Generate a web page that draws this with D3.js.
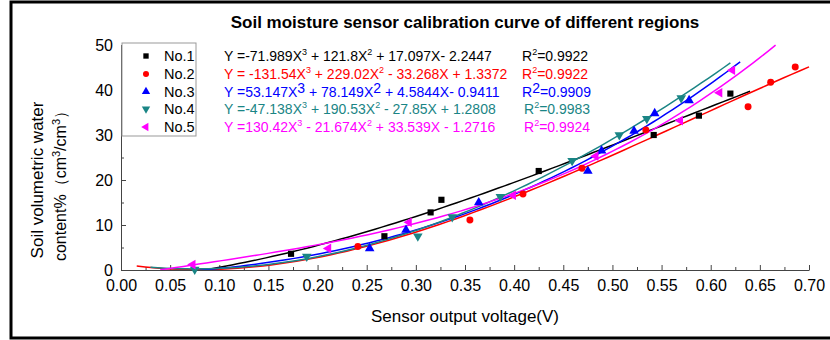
<!DOCTYPE html>
<html>
<head>
<meta charset="utf-8">
<script src="https://cdn.jsdelivr.net/npm/d3@7"></script>
<style>
  body { margin: 0; background: #fff; }
  svg text { font-family: "Liberation Sans", Arial, sans-serif; }
</style>
</head>
<body>
<div id="chart"></div>
<script>
// 数据
const seriesNames = ["No.1", "No.2", "No.3", "No.4", "No.5"];
const seriesColors = ["#000000", "#ff0000", "#0000ff", "#1a8585", "#ff00ff"];

const no1X = [0.173, 0.268, 0.315, 0.326, 0.425, 0.542, 0.588, 0.620];
const no1Y = [3.6, 7.5, 12.8, 15.6, 22.0, 30.0, 34.3, 39.2];
const no2X = [0.241, 0.355, 0.409, 0.469, 0.534, 0.638, 0.661, 0.686];
const no2Y = [5.2, 11.1, 16.9, 22.6, 31.1, 36.3, 41.7, 45.1];
const no3X = [0.253, 0.290, 0.364, 0.475, 0.489, 0.522, 0.543, 0.578];
const no3Y = [4.8, 8.9, 15.0, 22.0, 26.5, 30.9, 34.8, 37.7];
const no4X = [0.075, 0.189, 0.302, 0.337, 0.386, 0.459, 0.507, 0.535, 0.570];
const no4Y = [0.1, 3.0, 7.5, 11.8, 16.3, 24.3, 30.0, 33.6, 38.2];
const no5X = [0.073, 0.211, 0.293, 0.399, 0.483, 0.569, 0.609, 0.622];
const no5Y = [1.2, 4.8, 10.6, 16.6, 25.3, 33.2, 39.4, 44.4];

// fitted cubic coefficients as printed in the chart: [a3, a2, a1, a0]
const fitCoefs = [
  [-71.989, 121.8, 17.097, -2.2447],
  [-131.54, 229.02, -33.268, 1.3372],
  [53.147, 78.149, 4.5844, -0.9411],
  [-47.138, 190.53, -27.85, 1.2808],
  [130.42, -21.674, 33.539, -1.2716]
];
const fitRange = [[0.085, 0.64], [0.016, 0.70], [0.08, 0.63], [0.03, 0.62], [0.04, 0.666]];

const eqTexts = [
  ["Y =-71.989X", "3", " + 121.8X", "2", " + 17.097X- 2.2447"],
  ["Y = -131.54X", "3", " + 229.02X", "2", " - 33.268X + 1.3372"],
  ["Y =53.147X", "3", " + 78.149X", "2", " + 4.5844X- 0.9411"],
  ["Y =-47.138X", "3", " + 190.53X", "2", " - 27.85X + 1.2808"],
  ["Y =130.42X", "3", " - 21.674X", "2", " + 33.539X - 1.2716"]
];
const r2Values = ["0.9922", "0.9922", "0.9909", "0.9983", "0.9924"];

const xTicks = d3.range(0, 0.7001, 0.05);
const yTicks = [0, 10, 20, 30, 40, 50];

const allX = [no1X, no2X, no3X, no4X, no5X];
const allY = [no1Y, no2Y, no3Y, no4Y, no5Y];

const W = 830, H = 340;
const svg = d3.select("#chart").append("svg")
  .attr("width", W).attr("height", H);

// outer frame
svg.append("rect")
  .attr("x", 11).attr("y", 2)
  .attr("width", 830).attr("height", 336)
  .attr("fill", "none").attr("stroke", "#000").attr("stroke-width", 3);

const x = d3.scaleLinear().domain([0, 0.7]).range([121, 809]);
const y = d3.scaleLinear().domain([0, 50]).range([270, 45]);

// title
svg.append("text")
  .attr("x", 465).attr("y", 28)
  .attr("text-anchor", "middle")
  .attr("font-size", 17).attr("font-weight", "bold")
  .text("Soil moisture sensor calibration curve of different regions");

// x axis
svg.append("g")
  .attr("transform", `translate(0,${y(0)})`)
  .call(d3.axisBottom(x).tickValues(xTicks).tickFormat(d3.format(".2f"))
    .tickSize(-5).tickSizeOuter(0).tickPadding(10));
svg.append("g")
  .attr("transform", `translate(0,${y(0)})`)
  .call(d3.axisBottom(x).tickValues(d3.range(0.025, 0.7, 0.05)).tickFormat("")
    .tickSize(-3).tickSizeOuter(0))
  .select(".domain").remove();

// y axis
svg.append("g")
  .attr("transform", `translate(${x(0)},0)`)
  .call(d3.axisLeft(y).tickValues(yTicks).tickSize(-5).tickSizeOuter(0).tickPadding(8));
svg.append("g")
  .attr("transform", `translate(${x(0)},0)`)
  .call(d3.axisLeft(y).tickValues([5, 15, 25, 35, 45]).tickFormat("")
    .tickSize(-3).tickSizeOuter(0))
  .select(".domain").remove();

svg.selectAll(".tick text")
  .attr("font-size", 16).attr("fill", "#000");
svg.selectAll(".domain, .tick line").attr("stroke", "#444");

// axis titles
svg.append("text")
  .attr("x", 465).attr("y", 322)
  .attr("text-anchor", "middle").attr("font-size", 17)
  .text("Sensor output voltage(V)");

svg.append("text")
  .attr("transform", "translate(43,180) rotate(-90)")
  .attr("text-anchor", "middle").attr("font-size", 17)
  .text("Soil volumetric water");
const yt2 = svg.append("text")
  .attr("transform", "translate(66,182) rotate(-90)")
  .attr("text-anchor", "middle").attr("font-size", 16);
yt2.append("tspan").text("content%（cm");
yt2.append("tspan").attr("dy", -6).attr("font-size", 11).text("3");
yt2.append("tspan").attr("dy", 6).text("/cm");
yt2.append("tspan").attr("dy", -6).attr("font-size", 11).text("3");
yt2.append("tspan").attr("dy", 6).text("）");

// fitted curves
const plot = svg.append("g");
svg.append("clipPath").attr("id", "clip")
  .append("rect").attr("x", x(0)).attr("y", 40).attr("width", 700).attr("height", y(0) - 40);
const line = d3.line().x(d => x(d[0])).y(d => y(d[1]));
fitCoefs.forEach((c, i) => {
  const [a, b] = fitRange[i];
  const pts = d3.range(a, b + 1e-9, (b - a) / 80).map(v =>
    [v, c[0] * v * v * v + c[1] * v * v + c[2] * v + c[3]]);
  plot.append("path")
    .attr("d", line(pts))
    .attr("clip-path", "url(#clip)")
    .attr("fill", "none")
    .attr("stroke", seriesColors[i])
    .attr("stroke-width", 1.5);
});

// markers
const symbols = [
  { type: d3.symbolSquare, size: 38, rot: 0 },
  { type: d3.symbolCircle, size: 38, rot: 0 },
  { type: d3.symbolTriangle, size: 40, rot: 0 },
  { type: d3.symbolTriangle, size: 40, rot: 180 },
  { type: d3.symbolTriangle, size: 40, rot: -90 }
];
allX.forEach((xs, i) => {
  const pts = xs.map((v, j) => [v, allY[i][j]]);
  plot.selectAll(".m" + i)
    .data(pts)
    .enter().append("path")
    .attr("class", "m" + i)
    .attr("d", d3.symbol().type(symbols[i].type).size(symbols[i].size))
    .attr("transform", d => `translate(${x(d[0])},${y(d[1])}) rotate(${symbols[i].rot})`)
    .attr("fill", seriesColors[i]);
});

// legend
const legend = svg.append("g");
legend.append("rect")
  .attr("x", 122).attr("y", 43).attr("width", 74).attr("height", 93)
  .attr("fill", "#fff").attr("stroke", "#999").attr("stroke-width", 1);
const rowY = [56, 74, 91.5, 109, 127];
seriesNames.forEach((name, i) => {
  legend.append("path")
    .attr("d", d3.symbol().type(symbols[i].type).size(symbols[i].size * 0.75))
    .attr("transform", `translate(146,${rowY[i]}) rotate(${symbols[i].rot})`)
    .attr("fill", seriesColors[i]);
  legend.append("text")
    .attr("x", 164).attr("y", rowY[i] + 5)
    .attr("font-size", 14.5)
    .text(name);
});

// equations
eqTexts.forEach((parts, i) => {
  const big = i === 2;
  const t = svg.append("text")
    .attr("x", 224).attr("y", rowY[i] + 5)
    .attr("font-size", 14)
    .attr("fill", seriesColors[i]);
  parts.forEach((p, k) => {
    if (k % 2 === 1) {
      t.append("tspan").attr("dy", big ? -4 : -6).attr("font-size", big ? 14 : 9).text(p);
    } else {
      t.append("tspan").attr("dy", k === 0 ? 0 : (big ? 4 : 6)).text(p);
    }
  });
  const r = svg.append("text")
    .attr("x", i < 3 ? 522 : 524).attr("y", rowY[i] + 5)
    .attr("font-size", 14)
    .attr("fill", seriesColors[i]);
  r.append("tspan").text("R");
  r.append("tspan").attr("dy", big ? -4 : -6).attr("font-size", big ? 14 : 9).text("2");
  r.append("tspan").attr("dy", big ? 4 : 6).text("=" + r2Values[i]);
});
</script>
</body>
</html>
